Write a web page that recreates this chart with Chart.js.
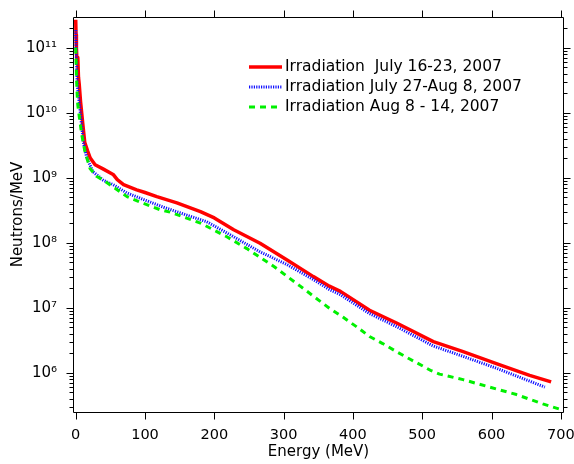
<!DOCTYPE html>
<html>
<head>
<meta charset="utf-8">
<script src="https://cdn.jsdelivr.net/npm/chart.js@4.4.1/dist/chart.umd.min.js"></script>
<style>
html,body{margin:0;padding:0;background:#fff;}
#wrap{width:574px;height:464px;}
canvas{display:block;}
</style>
</head>
<body>
<div id="wrap"><canvas id="c" width="574" height="464"></canvas></div>
<script>
// ---- data ----
const seriesLabels = [
  'Irradiation  July 16-23, 2007',
  'Irradiation July 27-Aug 8, 2007',
  'Irradiation Aug 8 - 14, 2007'
];
const redX = [0, 0.5, 1, 2, 3, 4, 5, 7, 10, 13, 17, 21, 28, 40, 54, 60, 69, 88, 100, 117, 146, 180, 200, 228, 266, 305, 343, 366, 382, 424, 463, 516, 559, 607, 655, 686];
const redY = [2.69e11, 1.58e11, 1.0e11, 5.6e10, 7.1e10, 3.5e10, 2.8e10, 1.48e10, 7.1e9, 3.5e9, 2.6e9, 2.0e9, 1.58e9, 1.35e9, 1.12e9, 9.3e8, 7.8e8, 6.5e8, 5.9e8, 5.1e8, 4.1e8, 3.0e8, 2.4e8, 1.58e8, 9.8e7, 5.4e7, 3.0e7, 2.14e7, 1.78e7, 9.1e6, 5.8e6, 3.0e6, 2.1e6, 1.38e6, 9.1e5, 7.2e5];
const blueX = [0, 0.5, 1.5, 3, 6, 11, 16, 25, 40, 54, 74, 98, 127, 158, 189, 228, 266, 305, 343, 366, 382, 424, 463, 516, 559, 607, 677];
const blueY = [1.86e11, 1.0e11, 4.0e10, 2.24e10, 1.17e10, 3.5e9, 2.0e9, 1.23e9, 9.1e8, 7.8e8, 5.8e8, 4.6e8, 3.5e8, 2.7e8, 2.1e8, 1.23e8, 7.2e7, 4.6e7, 2.7e7, 1.9e7, 1.58e7, 8.1e6, 5.1e6, 2.57e6, 1.78e6, 1.17e6, 6.0e5];
const greenX = [0, 1, 2, 3, 5, 8.7, 13.4, 20.7, 30, 40, 54, 74, 93, 122, 136, 180, 218, 247, 286, 324, 366, 386, 405, 424, 443, 463, 482, 501, 513, 525, 559, 597, 636, 674, 698];
const greenY = [1.0e11, 4.0e10, 2.0e10, 1.32e10, 8.9e9, 4.6e9, 2.5e9, 1.38e9, 1.05e9, 9.1e8, 7.2e8, 5.1e8, 4.2e8, 3.2e8, 2.95e8, 2.0e8, 1.23e8, 8.1e7, 4.3e7, 2.14e7, 9.8e6, 7.1e6, 5.1e6, 3.6e6, 2.8e6, 2.1e6, 1.62e6, 1.26e6, 1.07e6, 9.5e5, 7.8e5, 6.0e5, 4.6e5, 3.3e5, 2.75e5];

const xTickValues = [0, 100, 200, 300, 400, 500, 600, 700];
const yTickValues = [1e6, 1e7, 1e8, 1e9, 1e10, 1e11];
const yTickLabels = ['10\u2076', '10\u2077', '10\u2078', '10\u2079', '10\u00B9\u2070', '10\u00B9\u00B9'];
const yMinorMantissas = [2, 3, 4, 5, 6, 7, 8, 9];
const yMinorDecades = [5, 6, 7, 8, 9, 10, 11];

const xTitle = 'Energy (MeV)';
const yTitle = 'Neutrons/MeV';

const FONT = "'DejaVu Sans', Verdana, sans-serif";

function pts(xs, ys) { return xs.map((x, i) => ({ x: x, y: ys[i] })); }

// ---- frame and tick marks on all four sides ----
const framePlugin = {
  id: 'frame',
  afterDraw(chart) {
    const ctx = chart.ctx, a = chart.chartArea, xs = chart.scales.x, ys = chart.scales.y;
    ctx.save();
    ctx.strokeStyle = '#000';
    ctx.lineWidth = 1;
    ctx.setLineDash([]);
    const L = Math.round(a.left) + 0.5, R = Math.round(a.right) - 0.5;
    const T = Math.round(a.top) + 0.5, B = Math.round(a.bottom) + 0.5;
    ctx.beginPath();
    ctx.moveTo(L, T); ctx.lineTo(R, T); ctx.lineTo(R, B); ctx.lineTo(L, B); ctx.closePath();
    ctx.stroke();
    ctx.beginPath();
    xTickValues.forEach(v => {
      const px = Math.round(xs.getPixelForValue(v)) + 0.5;
      ctx.moveTo(px, B); ctx.lineTo(px, B + 7);
      ctx.moveTo(px, T); ctx.lineTo(px, T - 7);
    });
    yTickValues.forEach(v => {
      const py = Math.round(ys.getPixelForValue(v)) + 0.5;
      ctx.moveTo(L, py); ctx.lineTo(L - 7, py);
      ctx.moveTo(R, py); ctx.lineTo(R + 7, py);
    });
    yMinorDecades.forEach(d => {
      yMinorMantissas.forEach(m => {
        const v = m * Math.pow(10, d);
        if (v < ys.min || v > ys.max) return;
        const py = Math.round(ys.getPixelForValue(v)) + 0.5;
        ctx.moveTo(L, py); ctx.lineTo(L - 4, py);
        ctx.moveTo(R, py); ctx.lineTo(R + 4, py);
      });
    });
    ctx.stroke();
    ctx.restore();
  }
};

// ---- legend inside plot ----
const legendPlugin = {
  id: 'legendInside',
  afterDraw(chart) {
    const ctx = chart.ctx;
    ctx.save();
    chart.data.datasets.forEach((ds, i) => {
      const y = 67 + i * 20;
      ctx.beginPath();
      ctx.setLineDash(ds.borderDash || []);
      ctx.lineWidth = ds.borderWidth;
      ctx.strokeStyle = ds.borderColor;
      ctx.moveTo(249, y); ctx.lineTo(282, y);
      ctx.stroke();
      ctx.setLineDash([]);
      ctx.fillStyle = '#000';
      ctx.font = "15.5px " + FONT;
      ctx.textBaseline = 'middle';
      ctx.textAlign = 'left';
      ctx.fillText(ds.label, 285, y);
    });
    ctx.restore();
  }
};

new Chart(document.getElementById('c'), {
  type: 'line',
  data: {
    datasets: [
      { label: seriesLabels[0], data: pts(redX, redY), borderColor: '#ff0000', borderWidth: 3.5, borderDash: [], order: 3 },
      { label: seriesLabels[1], data: pts(blueX, blueY), borderColor: '#1010ff', borderWidth: 3, borderDash: [1.2, 1.2], order: 2 },
      { label: seriesLabels[2], data: pts(greenX, greenY), borderColor: '#00f000', borderWidth: 3, borderDash: [6, 5], order: 1 }
    ]
  },
  options: {
    responsive: false,
    animation: false,
    devicePixelRatio: 1,
    parsing: true,
    elements: { point: { radius: 0, hoverRadius: 0 }, line: { tension: 0, fill: false, borderCapStyle: 'butt', borderJoinStyle: 'round' } },
    layout: { padding: { left: 0, right: 10, top: 17, bottom: 0 } },
    plugins: { legend: { display: false }, tooltip: { enabled: false } },
    events: [],
    scales: {
      x: {
        type: 'linear',
        position: 'bottom',
        min: -3.9,
        max: 704.6,
        afterBuildTicks: s => { s.ticks = xTickValues.map(v => ({ value: v })); },
        afterFit: s => { s.height = 52; s.paddingLeft = 0; s.paddingRight = 0; },
        grid: { display: false, drawTicks: false },
        border: { display: false },
        ticks: { color: '#000', font: { family: FONT, size: 14.5 }, padding: 15, maxRotation: 0, autoSkip: false,
                 callback: (v, i) => String(xTickValues[i]) },
        title: { display: true, text: xTitle, color: '#000', font: { family: FONT, size: 15 }, padding: { top: 0, bottom: 3 } }
      },
      y: {
        type: 'logarithmic',
        position: 'left',
        min: 2.48e5,
        max: 2.96e11,
        afterBuildTicks: s => { s.ticks = yTickValues.map(v => ({ value: v })); },
        afterFit: s => { s.width = 73; s.paddingTop = 0; s.paddingBottom = 0; },
        grid: { display: false, drawTicks: false },
        border: { display: false },
        ticks: { color: '#000', font: { family: FONT, size: 15 }, padding: 16, autoSkip: false,
                 callback: (v, i) => yTickLabels[i] },
        title: { display: true, text: yTitle, color: '#000', font: { family: FONT, size: 15 }, padding: { top: 9, bottom: 0 } }
      }
    }
  },
  plugins: [framePlugin, legendPlugin]
});
</script>
</body>
</html>
